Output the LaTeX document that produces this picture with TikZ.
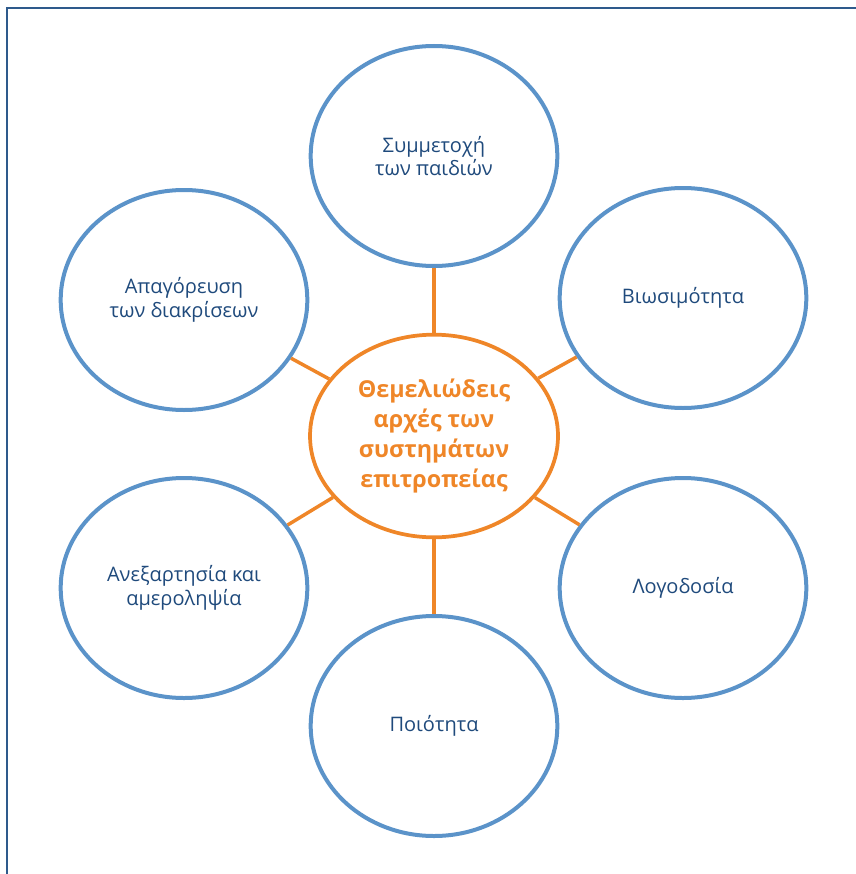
\documentclass[tikz,border=0pt]{standalone}
\usepackage{fontspec}
\setmainfont{Open Sans}
\usetikzlibrary{shapes.geometric}
\definecolor{ringblue}{HTML}{5B93C9}
\definecolor{textblue}{HTML}{1F4A7C}
\definecolor{coreorange}{HTML}{EF8628}
\definecolor{frameblue}{HTML}{2E5A8C}
\tikzset{
  principle/.style={shape=ellipse,draw=ringblue,line width=3pt,minimum width=185pt,minimum height=165pt,inner sep=0pt,align=center,text=textblue,font=\fontsize{15}{17.5}\selectfont},
  core/.style={shape=ellipse,draw=coreorange,line width=2.8pt,minimum width=186pt,minimum height=152pt,inner sep=0pt,align=center,text=coreorange,font=\fontsize{17.5}{22.5}\selectfont\bfseries},
  link/.style={draw=coreorange,line width=2.6pt},
  frame/.style={draw=frameblue,line width=1.6pt}
}
\begin{document}
\begin{tikzpicture}[x=0.75pt,y=-0.75pt]
\useasboundingbox (0,0) rectangle (856,874);
\draw[frame] (856,8) -- (7,8) -- (7,874);
\node[core] (C) at (434,436) {Θεμελιώδεις\\αρχές των\\συστημάτων\\επιτροπείας};
\node[principle] (P1) at (434,156) {Συμμετοχή\\των παιδιών};
\node[principle] (P2) at (683,298) {Βιωσιμότητα};
\node[principle] (P3) at (683,588) {Λογοδοσία};
\node[principle] (P4) at (434,726) {Ποιότητα};
\node[principle] (P5) at (184,588) {Ανεξαρτησία και\\αμεροληψία};
\node[principle] (P6) at (184,300) {Απαγόρευση\\των διακρίσεων};
\path [link] (C) edge (P1);
\path [link] (C) edge (P2);
\path [link] (C) edge (P3);
\path [link] (C) edge (P4);
\path [link] (C) edge (P5);
\path [link] (C) edge (P6);
\end{tikzpicture}
\end{document}
